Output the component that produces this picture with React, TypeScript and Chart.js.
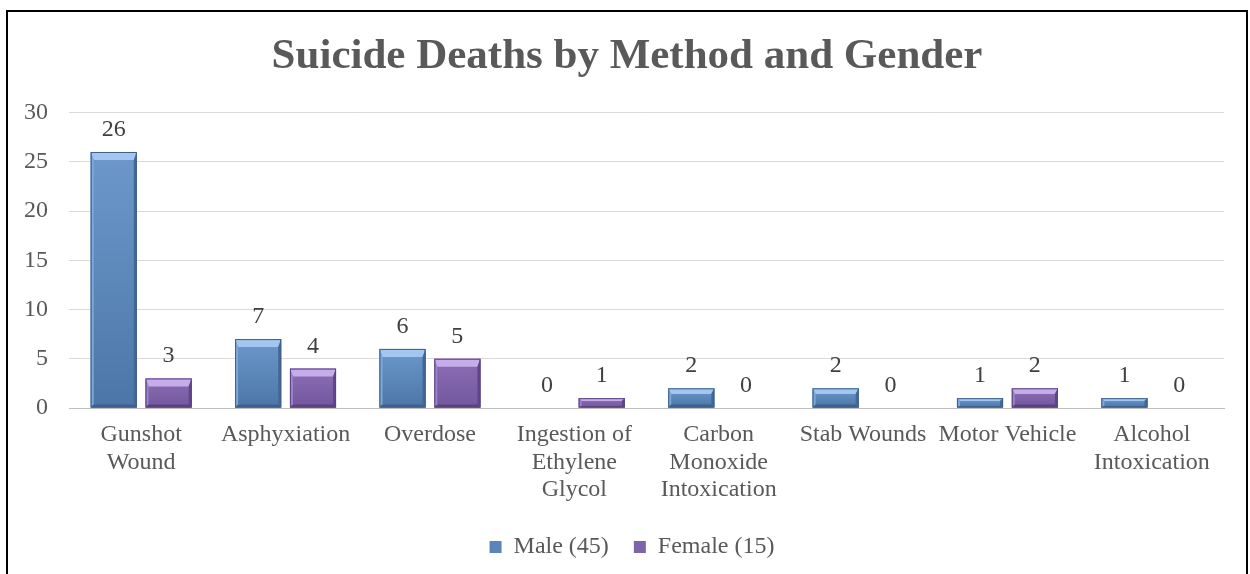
import React, { useEffect, useRef } from "react";
import { Chart, registerables } from "chart.js";

Chart.register(...registerables);

const categories: string[][] = [
  ["Gunshot", "Wound"],
  ["Asphyxiation"],
  ["Overdose"],
  ["Ingestion of", "Ethylene", "Glycol"],
  ["Carbon", "Monoxide", "Intoxication"],
  ["Stab Wounds"],
  ["Motor Vehicle"],
  ["Alcohol", "Intoxication"],
];
const maleValues = [26, 7, 6, 0, 2, 2, 1, 1];
const femaleValues = [3, 4, 5, 1, 0, 0, 2, 0];
const seriesLabels = ["Male (45)", "Female (15)"];
const yTicks = { min: 0, max: 30, step: 5 };
const titleText = "Suicide Deaths by Method and Gender";

const FONT = "'Liberation Serif', 'Times New Roman', serif";

const palettes = [
  { body1: "#6C98CC", body2: "#4C76A7", top: "#A2C6EF", left: "#7DA8DA", right: "#42689A", bottom: "#3D6190", border: "#3F5F86" },
  { body1: "#8C6EB3", body2: "#72579F", top: "#C6ADEA", left: "#9E82C6", right: "#60478A", bottom: "#58427F", border: "#5A4580" },
];

const bevelPlugin = {
  id: "bevelBars",
  afterDatasetsDraw(chart: any) {
    const ctx = chart.ctx;
    chart.data.datasets.forEach((ds: any, di: number) => {
      const meta = chart.getDatasetMeta(di);
      const pal = palettes[di];
      meta.data.forEach((bar: any, i: number) => {
        const p = bar.getProps(["x", "y", "base", "width"], true);
        const left = p.x - p.width / 2;
        const right = p.x + p.width / 2;
        const top = Math.min(p.y, p.base);
        const bottom = Math.max(p.y, p.base);
        const h = bottom - top;
        if (h >= 0.5) {
          const dt = Math.min(8, h * 0.3);
          const db = Math.min(3, h * 0.15);
          const ds2 = Math.min(3, p.width / 4);
          ctx.save();
          const g = ctx.createLinearGradient(0, top, 0, bottom);
          g.addColorStop(0, pal.body1);
          g.addColorStop(1, pal.body2);
          ctx.fillStyle = g;
          ctx.fillRect(left, top, p.width, h);
          const poly = (pts: number[][], color: string) => {
            ctx.beginPath();
            ctx.moveTo(pts[0][0], pts[0][1]);
            for (let k = 1; k < pts.length; k++) ctx.lineTo(pts[k][0], pts[k][1]);
            ctx.closePath();
            ctx.fillStyle = color;
            ctx.fill();
          };
          poly([[left, top], [right, top], [right - ds2, top + dt], [left + ds2, top + dt]], pal.top);
          poly([[left, top], [left + ds2, top + dt], [left + ds2, bottom - db], [left, bottom]], pal.left);
          poly([[right, top], [right - ds2, top + dt], [right - ds2, bottom - db], [right, bottom]], pal.right);
          poly([[left, bottom], [left + ds2, bottom - db], [right - ds2, bottom - db], [right, bottom]], pal.bottom);
          ctx.strokeStyle = pal.border;
          ctx.lineWidth = 1;
          ctx.strokeRect(left + 0.5, top + 0.5, p.width - 1, h - 1);
          ctx.restore();
        }
        const v = ds.data[i];
        ctx.save();
        ctx.font = `24px ${FONT}`;
        ctx.fillStyle = "#404040";
        ctx.textAlign = "center";
        ctx.textBaseline = "alphabetic";
        ctx.fillText(String(v), p.x, top - 16);
        ctx.restore();
      });
    });
  },
};

const borderPlugin = {
  id: "outerBorder",
  beforeDraw(chart: any) {
    const ctx = chart.ctx;
    ctx.save();
    ctx.fillStyle = "#ffffff";
    ctx.fillRect(0, 0, chart.width, chart.height);
    ctx.restore();
  },
  afterDraw(chart: any) {
    const ctx = chart.ctx;
    ctx.save();
    ctx.strokeStyle = "#000000";
    ctx.lineWidth = 2;
    ctx.beginPath();
    ctx.moveTo(7, chart.height + 5);
    ctx.lineTo(7, 11);
    ctx.lineTo(1247, 11);
    ctx.lineTo(1247, chart.height + 5);
    ctx.stroke();
    ctx.restore();
  },
};

// Centre title and legend on the outer frame rather than the padded layout box
const centerPlugin = {
  id: "centerBlocks",
  afterLayout(chart: any) {
    if (chart.titleBlock) {
      chart.titleBlock.left += 15;
      chart.titleBlock.right += 15;
    }
    if (chart.legend) {
      chart.legend.left += 20;
      chart.legend.right += 20;
    }
  },
};

export default function App() {
  const ref = useRef<HTMLCanvasElement | null>(null);
  useEffect(() => {
    if (!ref.current) return;
    const chart = new Chart(ref.current, {
      type: "bar",
      data: {
        labels: categories,
        datasets: [
          {
            label: seriesLabels[0],
            data: maleValues,
            backgroundColor: "#5A85B9",
            borderColor: "#3F5F86",
            borderWidth: 0,
          },
          {
            label: seriesLabels[1],
            data: femaleValues,
            backgroundColor: "#8063A8",
            borderColor: "#5A4580",
            borderWidth: 0,
          },
        ],
      },
      options: {
        responsive: false,
        animation: false,
        layout: { padding: { left: 0, right: 26, top: 10, bottom: 5 } },
        datasets: { bar: { categoryPercentage: 0.76, barPercentage: 0.84 } },
        plugins: {
          title: {
            display: true,
            text: titleText,
            color: "#595959",
            font: { family: FONT, size: 43, weight: "bold", lineHeight: 1.2 },
            padding: { top: 21, bottom: 30 },
          },
          legend: {
            position: "bottom",
            labels: {
              color: "#595959",
              font: { family: FONT, size: 24 },
              boxWidth: 12,
              boxHeight: 12,
              padding: 25,
            },
          },
          tooltip: { enabled: false },
        },
        scales: {
          x: {
            grid: { display: false, drawTicks: false },
            border: { display: true, color: "#BFBFBF", width: 1 },
            ticks: {
              color: "#595959",
              font: { family: FONT, size: 24, lineHeight: 1.15 },
              padding: 13,
              autoSkip: false,
              maxRotation: 0,
              minRotation: 0,
            },
            afterFit: (scale: any) => {
              scale.height = 102;
            },
          },
          y: {
            min: yTicks.min,
            max: yTicks.max,
            grid: { color: "#D9D9D9", drawTicks: false },
            border: { display: false },
            ticks: {
              stepSize: yTicks.step,
              color: "#595959",
              font: { family: FONT, size: 24 },
              padding: 21,
            },
            afterFit: (scale: any) => {
              scale.width = 69;
            },
          },
        },
      },
      plugins: [borderPlugin, bevelPlugin, centerPlugin],
    } as any);
    return () => chart.destroy();
  }, []);
  return (
    <div style={{ position: "fixed", left: 0, top: 0, width: 1250, height: 574 }}>
      <canvas ref={ref} width={1250} height={574} />
    </div>
  );
}
